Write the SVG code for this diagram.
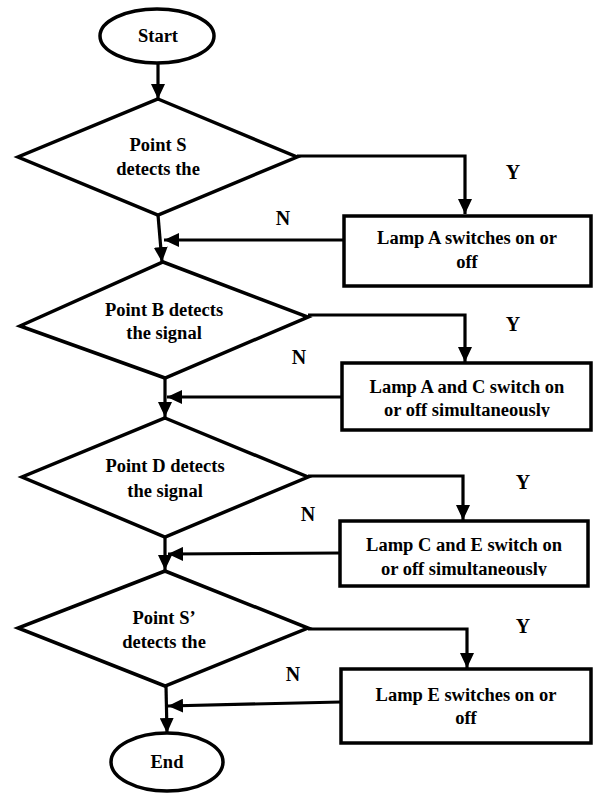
<svg xmlns="http://www.w3.org/2000/svg" width="598" height="794" viewBox="0 0 598 794">
<style>
.sh{fill:#fff;stroke:#000;stroke-width:3.5}
.ln{fill:none;stroke:#000;stroke-width:3.2}
.t{font-family:"Liberation Serif","Times New Roman",serif;font-weight:bold;font-size:18.5px;text-anchor:middle;fill:#000}
.lb{font-family:"Liberation Serif","Times New Roman",serif;font-weight:bold;font-size:20px;text-anchor:middle;fill:#000}
</style>
<defs>
<marker id="ah" viewBox="0 0 15 14" refX="15" refY="7" markerWidth="15" markerHeight="14" markerUnits="userSpaceOnUse" orient="auto">
<path d="M0,0 L15,7 L0,14 z" fill="#000"/>
</marker>
<clipPath id="c2"><rect x="340" y="360" width="260" height="57"/></clipPath>
<clipPath id="c3"><rect x="338" y="518" width="260" height="58"/></clipPath>
</defs>
<rect width="598" height="794" fill="#fff"/>
<g id="connectors">
<line class="ln" x1="158" y1="63" x2="158" y2="99" marker-end="url(#ah)"/>
<polyline class="ln" points="297,156 465,156 465,214" marker-end="url(#ah)"/>
<line class="ln" x1="344" y1="240" x2="164" y2="240" marker-end="url(#ah)"/>
<line class="ln" x1="158" y1="215" x2="162" y2="262" marker-end="url(#ah)"/>
<polyline class="ln" points="308,315 465,315 465,362" marker-end="url(#ah)"/>
<line class="ln" x1="342" y1="397" x2="167" y2="397" marker-end="url(#ah)"/>
<line class="ln" x1="165" y1="378" x2="165" y2="417" marker-end="url(#ah)"/>
<polyline class="ln" points="308,476 463,476 463,520" marker-end="url(#ah)"/>
<line class="ln" x1="340" y1="553" x2="168" y2="554" marker-end="url(#ah)"/>
<line class="ln" x1="165" y1="537" x2="165" y2="570" marker-end="url(#ah)"/>
<polyline class="ln" points="308,629 467,629 467,668" marker-end="url(#ah)"/>
<line class="ln" x1="341" y1="702" x2="168" y2="706" marker-end="url(#ah)"/>
<line class="ln" x1="166" y1="686" x2="167" y2="733" marker-end="url(#ah)"/>
</g>
<g id="labels">
<text class="lb" x="513" y="179">Y</text>
<text class="lb" x="283" y="225">N</text>
<text class="lb" x="513" y="331">Y</text>
<text class="lb" x="299" y="364">N</text>
<text class="lb" x="523" y="489">Y</text>
<text class="lb" x="308" y="521">N</text>
<text class="lb" x="523" y="633">Y</text>
<text class="lb" x="293" y="681">N</text>
</g>
<g id="start">
<ellipse class="sh" cx="157" cy="36" rx="57" ry="27"/>
<text class="t" x="158" y="42">Start</text>
</g>
<g id="d1">
<polygon class="sh" points="158,99 297,157 158,215 18,157"/>
<text class="t" x="158" y="151">Point S</text>
<text class="t" x="158" y="175">detects the</text>
</g>
<g id="r1">
<rect class="sh" x="344" y="216" width="247" height="70"/>
<text class="t" x="467" y="244">Lamp A switches on or</text>
<text class="t" x="467" y="268">off</text>
</g>
<g id="d2">
<polygon class="sh" points="163,262 308,317 165,378 20,326"/>
<text class="t" x="164" y="316">Point B detects</text>
<text class="t" x="164" y="339">the signal</text>
</g>
<g id="r2">
<rect class="sh" x="342" y="363" width="249" height="67"/>
<text class="t" x="467" y="393">Lamp A and C switch on</text>
<text class="t" x="467" y="416" clip-path="url(#c2)">or off simultaneously</text>
</g>
<g id="d3">
<polygon class="sh" points="165,418 308,477 165,537 22,477"/>
<text class="t" x="165" y="472">Point D detects</text>
<text class="t" x="165" y="497">the signal</text>
</g>
<g id="r3">
<rect class="sh" x="340" y="521" width="248" height="65"/>
<text class="t" x="464" y="551">Lamp C and E switch on</text>
<text class="t" x="464" y="575" clip-path="url(#c3)">or off simultaneously</text>
</g>
<g id="d4">
<polygon class="sh" points="165,571 308,628 165,686 18,628"/>
<text class="t" x="164" y="624">Point S’</text>
<text class="t" x="164" y="648">detects the</text>
</g>
<g id="r4">
<rect class="sh" x="341" y="669" width="250" height="74"/>
<text class="t" x="466" y="701">Lamp E switches on or</text>
<text class="t" x="466" y="724">off</text>
</g>
<g id="end">
<ellipse class="sh" cx="167" cy="762" rx="56" ry="29"/>
<text class="t" x="167" y="768">End</text>
</g>
</svg>
